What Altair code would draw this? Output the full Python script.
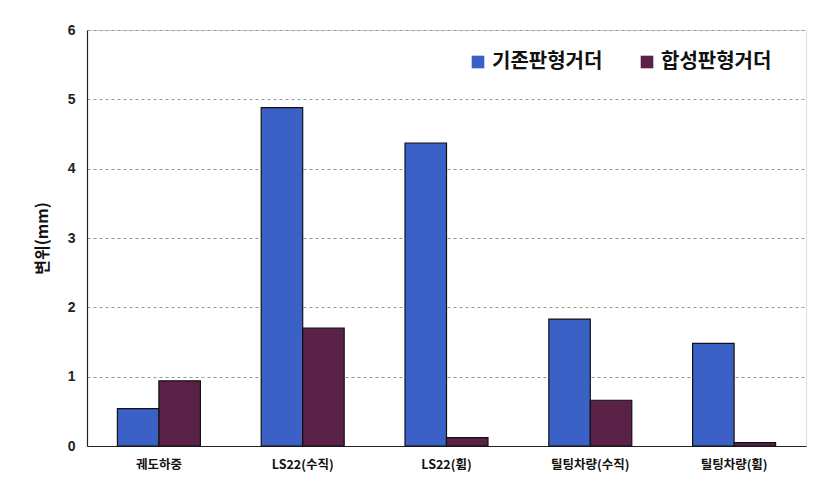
import altair as alt
import pandas as pd

categories = ["궤도하중", "LS22(수직)", "LS22(휨)", "틸팅차량(수직)", "틸팅차량(휨)"]
series = ["기존판형거더", "합성판형거더"]
existing = [0.54, 4.88, 4.37, 1.83, 1.48]
composite = [0.94, 1.70, 0.12, 0.66, 0.05]
colors = ["#3B60C6", "#5A2247"]

rows = []
for c, a, b in zip(categories, existing, composite):
    rows.append({"category": c, "series": series[0], "value": a})
    rows.append({"category": c, "series": series[1], "value": b})
df = pd.DataFrame(rows)

FONT = "Noto Sans CJK KR"

bars = alt.Chart(df).mark_bar(stroke="#111111", strokeWidth=1.2).encode(
    x=alt.X("category:N", sort=categories,
            scale=alt.Scale(paddingInner=0.423, paddingOuter=0.2115),
            axis=alt.Axis(title=None, labelAngle=0, labelFont=FONT, labelFontSize=12.5,
                          labelFontWeight="bold", labelColor="#111111", labelPadding=12,
                          ticks=False, domainColor="#222222", domainWidth=1.2)),
    xOffset=alt.XOffset("series:N", sort=series, scale=alt.Scale(paddingInner=0, paddingOuter=0)),
    y=alt.Y("value:Q", scale=alt.Scale(domain=[0, 6], nice=False),
            axis=alt.Axis(title="변위(mm)", values=[0, 1, 2, 3, 4, 5, 6], format="d",
                          titleFont=FONT, titleFontSize=16, titleFontWeight="bold",
                          titleColor="#111111", titlePadding=17,
                          labelFont="Liberation Sans", labelFontSize=14, labelFontWeight="bold",
                          labelColor="#222222", labelPadding=12, ticks=False,
                          grid=True, gridDash=[3, 3], gridColor="#999999", gridWidth=1,
                          domainColor="#222222", domainWidth=1.2)),
    color=alt.Color("series:N", sort=series,
                    scale=alt.Scale(domain=series, range=colors),
                    legend=alt.Legend(title=None, orient="none", legendX=381, legendY=22,
                                      direction="horizontal", symbolType="square",
                                      symbolSize=160, symbolStrokeWidth=0,
                                      labelFont=FONT, labelFontSize=20, labelFontWeight="bold",
                                      labelColor="#111111", columnPadding=34, labelOffset=4)),
)

chart = bars.properties(
    width=719, height=416,
    padding={"left": 26, "top": 15, "right": 10, "bottom": 10},
).configure_view(stroke="#999999", strokeWidth=1).configure(background="white")

chart.save("out.html", embed_options={"renderer": "svg", "actions": False})
